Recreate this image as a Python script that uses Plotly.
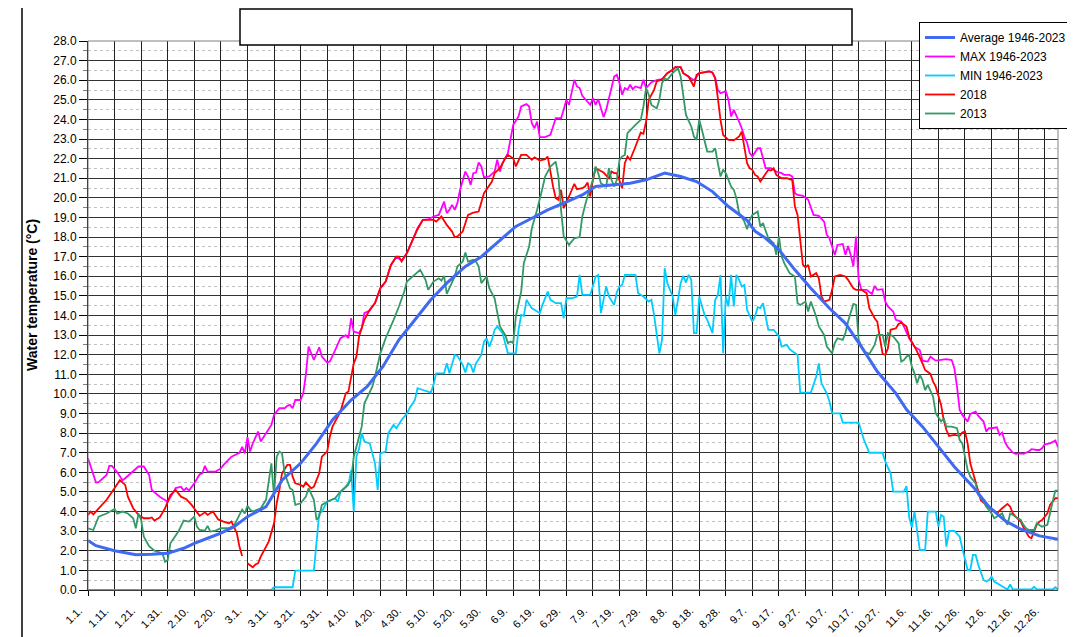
import plotly.graph_objects as go

# ---------------- data (day index: 0 = 1 Jan of a 366-day year) ----------------
tick_labels = ["1.1.", "1.11.", "1.21.", "1.31.", "2.10.", "2.20.", "3.1.", "3.11.", "3.21.", "3.31.",
               "4.10.", "4.20.", "4.30.", "5.10.", "5.20.", "5.30.", "6.9.", "6.19.", "6.29.", "7.9.",
               "7.19.", "7.29.", "8.8.", "8.18.", "8.28.", "9.7.", "9.17.", "9.27.", "10.7.", "10.17.",
               "10.27.", "11.6.", "11.16.", "11.26.", "12.6.", "12.16.", "12.26."]

avg_day = [0, 3, 10, 18, 24, 30, 36, 40, 45, 50, 55, 60, 65, 67, 73, 80, 86, 92, 99, 105, 111, 117, 124,
           129, 135, 142, 148, 154, 161, 167, 173, 179, 186, 191, 198, 204, 210, 217, 223, 229, 235, 241,
           248, 251, 255, 260, 266, 272, 279, 285, 291, 297, 304, 308, 314, 320, 326, 333, 339, 345, 351,
           358, 365]
avg_temp = [2.52, 2.26, 2.0, 1.8, 1.82, 1.87, 2.13, 2.38, 2.64, 2.9, 3.23, 3.74, 4.1, 4.25, 5.6, 6.46, 7.48,
            8.67, 9.69, 10.37, 11.4, 12.76, 13.95, 14.8, 15.65, 16.5, 17.0, 17.69, 18.54, 18.96, 19.39,
            19.73, 20.15, 20.58, 20.66, 20.75, 20.92, 21.26, 21.09, 20.83, 20.32, 19.56, 18.85, 18.3, 17.94,
            17.35, 16.33, 15.39, 14.37, 13.6, 12.41, 11.14, 10.03, 9.2, 8.33, 7.31, 6.29, 5.27, 4.25, 3.54,
            3.1, 2.76, 2.59]

max_day = [0, 1, 3, 4, 7, 8, 9, 11, 13, 14, 18, 19, 21, 23, 24, 27, 30, 33, 35, 36, 37, 38, 40, 42, 43, 44,
           45, 48, 50, 51, 54, 57, 58, 59, 60, 61, 62, 64, 65, 67, 69, 70, 72, 74, 75, 76, 77, 78, 80, 81,
           82, 83, 84, 85, 87, 88, 90, 91, 93, 95, 97, 98, 99, 100, 102, 103, 104, 106, 108, 110, 112, 114,
           116, 118, 120, 122, 124, 126, 128, 130, 132, 134, 135, 136, 137, 138, 139, 140, 142, 143, 144,
           145, 146, 147, 148, 149, 151, 153, 154, 155, 156, 158, 159, 160, 162, 163, 165, 166, 167, 168,
           169, 170, 172, 174, 176, 178, 179, 180, 181, 182, 183, 184, 185, 186, 188, 189, 190, 191, 192,
           194, 195, 196, 198, 199, 200, 201, 202, 203, 204, 205, 206, 208, 209, 210, 212, 214, 216, 218,
           220, 221, 223, 224, 226, 228, 230, 232, 234, 235, 236, 237, 238, 240, 241, 242, 243, 245, 246,
           247, 248, 249, 250, 252, 253, 254, 255, 257, 259, 261, 262, 264, 265, 266, 267, 269, 271, 273,
           275, 277, 278, 279, 281, 282, 284, 285, 286, 287, 288, 289, 290, 291, 293, 295, 296, 297, 299,
           300, 301, 303, 304, 306, 307, 309, 311, 313, 314, 316, 317, 319, 321, 323, 325, 326, 327, 328,
           329, 331, 332, 334, 335, 337, 338, 339, 340, 342, 343, 344, 345, 346, 348, 349, 351, 352, 354,
           355, 357, 358, 359, 360, 362, 364, 365]
max_temp = [6.72, 6.3, 5.48, 5.5, 5.87, 6.33, 6.33, 6.0, 5.6, 5.7, 6.2, 6.3, 6.3, 5.87, 5.1, 4.76, 4.5, 5.2,
            5.27, 5.07, 5.2, 5.07, 5.44, 5.9, 5.95, 6.33, 6.04, 6.04, 6.2, 6.38, 6.8, 7.0, 7.3, 6.97, 7.8,
            7.06, 7.48, 8.08, 7.57, 7.99, 8.42, 8.93, 9.27, 9.27, 9.39, 9.44, 9.27, 9.69, 9.69, 10.03, 11.0,
            12.41, 12.07, 11.73, 12.38, 11.9, 11.6, 11.65, 12.24, 12.84, 13.0, 12.84, 13.86, 13.18, 13.1,
            13.35, 14.12, 14.25, 14.63, 15.39, 15.73, 16.58, 17.0, 16.8, 17.18, 17.77, 18.45, 18.88, 18.9,
            19.05, 19.13, 19.81, 19.22, 19.39, 19.64, 19.39, 19.73, 20.41, 21.34, 21.09, 20.66, 21.26, 21.29,
            21.8, 21.6, 21.05, 21.09, 21.34, 21.94, 21.34, 21.77, 22.28, 22.96, 23.72, 24.15, 24.66, 24.78,
            24.66, 23.81, 23.55, 23.89, 23.1, 23.1, 23.21, 24.06, 24.06, 24.49, 25.0, 24.74, 25.42, 26.02,
            25.68, 25.6, 25.2, 24.91, 24.74, 25.09, 24.74, 25.03, 24.12, 24.49, 25.09, 26.19, 26.28, 25.85,
            25.26, 25.6, 25.51, 25.77, 25.54, 25.68, 25.6, 26.02, 25.6, 25.9, 26.0, 26.05, 26.36, 26.53,
            26.67, 26.67, 26.36, 26.2, 26.0, 26.36, 26.39, 26.45, 26.39, 26.11, 25.5, 25.34, 25.43, 25.0,
            24.15, 24.49, 23.89, 23.55, 23.1, 22.82, 22.28, 22.11, 22.53, 22.53, 22.02, 21.51, 21.51, 21.34,
            21.26, 21.17, 21.17, 21.09, 20.24, 20.15, 20.1, 19.9, 19.13, 19.08, 18.79, 18.11, 17.94, 17.09,
            17.6, 17.65, 17.09, 17.55, 17.09, 16.5, 18.03, 15.82, 15.31, 15.31, 15.1, 15.51, 15.31, 15.34,
            14.71, 14.46, 14.2, 13.78, 13.69, 13.44, 12.84, 12.41, 12.24, 11.7, 11.65, 11.9, 11.7, 11.73,
            11.77, 11.73, 11.31, 10.37, 9.18, 8.93, 8.59, 8.98, 9.1, 8.88, 8.59, 8.08, 8.25, 8.25, 8.3, 7.91,
            8.03, 7.57, 7.31, 7.01, 6.94, 6.97, 6.94, 7.06, 7.18, 7.14, 7.14, 7.23, 7.43, 7.48, 7.62, 7.28]

min_day = [0, 69, 70, 77, 78, 85, 87, 88, 90, 93, 94, 95, 98, 99, 100, 101, 102, 103, 104, 106, 108, 109,
           110, 112, 113, 115, 116, 118, 120, 121, 123, 124, 126, 129, 130, 131, 134, 135, 136, 137, 138,
           139, 141, 142, 143, 144, 145, 146, 148, 149, 150, 151, 152, 153, 154, 156, 157, 158, 161, 162,
           163, 164, 165, 167, 168, 170, 171, 173, 174, 176, 178, 179, 180, 182, 184, 185, 186, 189, 191,
           192, 193, 194, 195, 196, 198, 199, 200, 201, 202, 206, 207, 209, 210, 211, 212, 213, 215, 216,
           217, 218, 220, 221, 222, 223, 224, 225, 226, 227, 228, 229, 230, 231, 232, 233, 235, 236, 237,
           238, 239, 240, 241, 242, 243, 244, 245, 246, 247, 248, 249, 250, 251, 252, 253, 254, 256, 258,
           260, 261, 263, 264, 267, 268, 272, 274, 275, 276, 278, 279, 280, 283, 284, 290, 292, 294, 299,
           300, 302, 303, 307, 308, 309, 310, 311, 312, 313, 315, 316, 319, 320, 321, 322, 323, 324, 326,
           328, 329, 330, 331, 332, 333, 334, 335, 337, 338, 339, 340, 341, 343, 344, 346, 347, 348, 355,
           356, 357, 363, 364, 365]
min_temp = [0.0, 0.0, 0.14, 0.14, 0.99, 0.99, 3.9, 4.0, 4.5, 4.68, 4.5, 5.0, 5.36, 6.1, 4.0, 6.8, 7.2, 8.0,
            7.57, 7.48, 6.46, 5.1, 6.97, 7.06, 8.0, 8.42, 8.25, 8.67, 9.0, 9.27, 9.69, 10.29, 10.2, 10.07,
            10.46, 11.05, 11.05, 11.56, 11.05, 11.48, 11.99, 11.94, 11.48, 11.09, 11.56, 11.48, 11.09, 11.56,
            11.99, 12.67, 12.84, 12.41, 12.76, 13.27, 13.44, 13.1, 12.59, 12.07, 12.07, 13.27, 14.03, 13.98,
            14.8, 14.37, 14.29, 14.12, 14.54, 15.22, 14.8, 14.63, 14.63, 13.86, 14.88, 14.88, 14.97, 16.07,
            15.05, 15.05, 15.99, 16.07, 14.12, 14.8, 15.48, 14.97, 14.54, 15.2, 15.48, 15.56, 16.07, 16.07,
            15.14, 14.97, 14.83, 14.71, 14.8, 14.03, 12.07, 12.76, 16.41, 15.65, 14.97, 14.03, 14.8, 15.65,
            16.02, 15.68, 16.07, 15.82, 13.1, 13.1, 14.97, 14.46, 14.03, 13.78, 13.1, 14.8, 15.05, 16.07,
            12.07, 14.97, 14.46, 16.07, 14.46, 16.07, 15.82, 15.48, 15.56, 14.29, 13.95, 13.69, 13.95, 14.42,
            14.37, 14.63, 13.27, 13.27, 12.93, 12.41, 12.5, 12.28, 11.99, 10.07, 10.07, 10.88, 11.56, 10.54,
            10.03, 9.61, 9.01, 9.01, 8.54, 8.54, 7.65, 7.0, 7.0, 6.55, 5.95, 5.02, 5.02, 5.3, 3.7, 3.2, 4.0,
            2.9, 2.04, 2.04, 4.0, 4.0, 3.23, 3.83, 3.74, 2.21, 3.01, 3.01, 2.72, 2.13, 1.53, 1.02, 1.02, 1.79,
            1.79, 1.28, 0.51, 0.43, 0.51, 0.68, 0.43, 0.26, 0.17, 0.03, 0.29, 0.03, 0.03, 0.17, 0.03, 0.03,
            0.14, 0.03]

y2018_day = [0, 1, 2, 4, 6, 7, 9, 11, 12, 14, 15, 17, 19, 21, 23, 24, 25, 27, 29, 31, 33, 35, 37, 39, 41, 42,
             44, 45, 47, 49, 51, 53, 54, 56, 57, 58, 59, 60, 62, 63, 64, 65, 67, 68, 70, 71, 72, 73, 75, 76,
             77, 78, 80, 81, 82, 84, 85, 87, 88, 90, 91, 92, 94, 95, 97, 98, 100, 101, 102, 104, 106, 108,
             110, 112, 114, 116, 117, 118, 120, 122, 124, 126, 130, 131, 133, 135, 137, 138, 139, 141, 143,
             145, 147, 149, 152, 153, 155, 157, 158, 160, 161, 163, 165, 167, 168, 170, 172, 173, 174, 175,
             176, 177, 178, 179, 181, 183, 184, 186, 187, 188, 189, 190, 191, 193, 194, 196, 197, 198, 199,
             201, 202, 203, 204, 206, 208, 209, 210, 211, 213, 214, 216, 218, 220, 221, 223, 224, 225, 226,
             228, 229, 230, 232, 234, 235, 236, 237, 238, 239, 241, 243, 245, 246, 247, 248, 249, 250, 251,
             252, 253, 255, 256, 257, 258, 259, 261, 263, 265, 266, 267, 268, 269, 270, 271, 272, 274, 275,
             276, 277, 279, 280, 281, 283, 285, 286, 288, 289, 291, 293, 294, 296, 297, 298, 299, 300, 301,
             302, 304, 305, 306, 308, 309, 311, 312, 314, 315, 317, 318, 319, 321, 322, 323, 324, 326, 328,
             329, 330, 331, 332, 334, 335, 336, 338, 340, 341, 342, 344, 346, 347, 348, 349, 351, 352, 354,
             355, 356, 357, 358, 359, 361, 362, 364, 365]
y2018_temp = [3.83, 4.0, 3.86, 4.17, 4.46, 4.6, 5.0, 5.44, 5.6, 5.36, 4.76, 4.17, 3.83, 3.66, 3.66, 3.7, 3.54,
              3.7, 4.17, 4.85, 5.1, 4.76, 4.63, 4.34, 4.0, 3.78, 3.96, 3.83, 4.0, 3.6, 3.49, 3.4, 3.49, 2.9,
              2.2, 1.73, None, 1.36, 1.16, 1.3, 1.36, 1.7, 2.2, 2.47, 3.4, 4.42, 5.1, 5.95, 6.38, 6.38, 5.78,
              5.44, 5.36, 5.27, 5.48, 5.19, 5.27, 5.95, 6.8, 7.06, 7.82, 8.33, 8.84, 9.1, 10.03, 10.12, 11.56,
              11.9, 12.93, 13.78, 14.29, 14.63, 15.39, 15.73, 16.58, 17.0, 17.0, 16.75, 17.18, 17.77, 18.4,
              18.88, 18.88, 18.79, 19.05, 18.62, 18.28, 17.99, 18.03, 18.28, 19.13, 19.25, 19.3, 20.24, 20.83,
              21.26, 21.51, 22.02, 22.19, 22.02, 21.6, 22.19, 22.19, 21.94, 22.07, 21.9, 21.97, 22.1, 21.26,
              20.58, 19.98, 19.9, 20.41, 19.47, 20.07, 20.71, 20.44, 20.49, 20.58, 20.78, 20.07, 20.92, 21.51,
              21.34, 21.29, 21.0, 21.34, 21.26, 21.26, 20.49, 21.77, 22.11, 21.94, 22.62, 23.33, 23.27, 23.89,
              25.0, 25.51, 25.94, 26.05, 26.36, 26.53, 26.67, 26.67, 26.36, 26.28, 26.19, 25.68, 26.28, 26.36,
              26.39, 26.45, 26.39, 26.11, 25.09, 23.98, 23.21, 22.96, 22.93, 23.13, 23.38, 22.45, 21.77, 21.51,
              21.43, 21.17, 21.09, 20.83, 21.26, 21.43, 21.39, 21.51, 21.17, 21.0, 21.0, 20.9, 19.56, 19.13,
              17.86, 16.6, 16.45, 16.58, 15.99, 16.16, 15.9, 14.97, 14.71, 14.8, 15.31, 15.99, 16.07, 15.99,
              15.82, 15.39, 15.31, 15.31, 15.14, 14.37, 13.86, 13.69, 12.84, 12.04, 11.99, 12.33, 13.27, 13.35,
              13.57, 13.64, 13.44, 12.89, 12.41, 12.16, 11.56, 11.22, 11.02, 10.63, 10.37, 9.44, 8.67, 8.16,
              7.86, 7.91, 7.86, 8.03, 8.08, 7.48, 6.46, 5.44, 4.93, 4.56, 4.34, 4.08, 4.05, 3.91, 4.17, 4.39,
              4.25, 3.91, 3.74, 3.49, 3.2, 2.72, 2.64, 2.98, 3.32, 3.49, 3.57, 3.91, 4.34, 4.68, 4.68]

y2013_day = [0, 2, 4, 6, 7, 10, 11, 13, 15, 17, 18, 19, 20, 21, 23, 25, 28, 29, 30, 31, 34, 36, 38, 40, 41,
             42, 44, 45, 46, 48, 50, 53, 55, 58, 59, 60, 61, 62, 65, 67, 68, 69, 70, 71, 72, 73, 74, 75, 76,
             77, 78, 80, 82, 83, 85, 86, 87, 88, 90, 93, 95, 97, 99, 100, 101, 103, 104, 105, 107, 108, 109,
             110, 112, 114, 115, 117, 119, 120, 122, 125, 127, 128, 130, 132, 133, 134, 135, 136, 138, 139,
             141, 142, 143, 145, 146, 147, 148, 150, 151, 153, 154, 155, 157, 158, 159, 160, 161, 163, 164,
             166, 167, 169, 171, 172, 173, 174, 176, 177, 178, 179, 181, 183, 185, 186, 187, 188, 190, 191,
             192, 193, 195, 196, 197, 198, 199, 200, 201, 202, 203, 205, 206, 208, 209, 210, 211, 212, 214,
             215, 216, 217, 218, 220, 221, 222, 223, 224, 225, 227, 228, 229, 230, 231, 232, 233, 235, 236,
             237, 238, 239, 240, 242, 243, 244, 245, 247, 248, 249, 250, 252, 253, 254, 255, 256, 258, 259,
             260, 261, 262, 264, 266, 267, 268, 270, 271, 272, 274, 275, 277, 278, 280, 281, 282, 284, 285,
             286, 288, 289, 290, 291, 292, 294, 296, 297, 299, 300, 301, 303, 305, 306, 307, 308, 309, 310,
             311, 312, 313, 314, 315, 316, 318, 319, 321, 322, 323, 325, 327, 328, 329, 330, 331, 332, 334,
             335, 337, 338, 340, 341, 342, 344, 345, 346, 347, 349, 351, 352, 353, 354, 356, 357, 358, 359,
             361, 362, 363, 364, 365]
y2013_temp = [3.15, 3.06, 3.74, 3.83, 3.9, 4.13, 3.9, 4.0, 3.9, 3.66, 3.15, 3.9, 3.57, 2.72, 2.24, 2.0, 1.87,
              1.44, 1.53, 2.38, 2.98, 3.54, 3.49, 3.74, 3.23, 3.06, 3.03, 3.27, 2.98, 3.03, 3.15, 3.15, 3.3,
              4.1, 3.9, 4.29, 4.1, 4.0, 4.17, 4.6, 5.44, 6.46, 4.8, 6.8, 7.06, 6.97, 5.95, 5.61, 5.19, 5.1,
              4.34, 4.42, 4.76, 5.19, 4.6, 3.57, 3.74, 4.34, 4.5, 4.68, 5.02, 5.27, 5.61, 6.8, 7.31, 8.33, 9.52,
              9.78, 10.37, 10.88, 11.4, 12.07, 12.84, 13.44, 13.78, 14.46, 15.22, 15.73, 15.99, 16.33, 15.82,
              15.31, 15.73, 15.9, 15.78, 16.02, 15.1, 15.39, 15.99, 16.5, 16.75, 17.21, 16.75, 16.84, 16.75,
              16.5, 15.65, 15.99, 15.39, 14.88, 14.12, 13.44, 13.01, 12.59, 12.67, 12.59, 13.95, 15.22, 16.67,
              17.52, 18.45, 19.39, 20.49, 21.09, 21.34, 21.6, 21.85, 21.09, 19.39, 18.03, 17.6, 17.94, 18.0,
              19.05, 19.6, 20.1, 20.92, 21.6, 21.26, 20.75, 20.58, 21.51, 20.92, 20.58, 20.92, 21.94, 22.11,
              22.19, 23.3, 23.55, 23.72, 23.98, 24.66, 25.6, 25.26, 24.74, 24.57, 25.0, 25.85, 26.1, 26.02,
              26.36, 26.5, 26.62, 26.19, 25.17, 24.23, 23.64, 23.13, 22.96, 23.98, 23.47, 22.87, 22.36, 22.36,
              22.53, 21.77, 21.09, 21.43, 21.26, 20.58, 20.41, 19.98, 19.22, 18.79, 18.4, 18.88, 19.13, 19.3,
              18.54, 18.71, 18.37, 17.94, 17.69, 17.09, 18.03, 17.01, 16.67, 16.16, 15.99, 14.63, 14.54, 14.71,
              14.2, 14.71, 13.95, 13.44, 13.01, 12.41, 12.07, 12.59, 12.84, 12.76, 13.1, 13.69, 14.59, 14.54,
              12.76, 12.41, 12.16, 12.04, 12.5, 13.01, 13.01, 12.41, 13.1, 12.93, 12.59, 11.65, 11.73, 11.9,
              11.99, 11.39, 11.05, 10.54, 10.97, 10.71, 10.2, 10.46, 9.86, 9.01, 8.59, 8.76, 8.33, 8.33, 8.25,
              7.65, 7.48, 6.8, 6.12, 5.78, 5.44, 4.85, 4.51, 4.25, 3.91, 3.66, 3.74, 3.91, 3.57, 3.32, 3.91,
              3.74, 3.57, 3.32, 3.15, 3.06, 3.06, 3.4, 3.32, 3.23, 3.32, 4.0, 4.51, 5.07, 5.07]

# ---------------- figure ----------------
FONT = "Liberation Sans, Arial, sans-serif"
OFF = 8                      # default page margin of the html body
W, H = 1075 - OFF, 637 - OFF
PL, PR, PT, PB = 88, 1058, 41, 590      # plot area in page pixels
L, T = PL - OFF, PT - OFF
R, B = W - (PR - OFF), H - (PB - OFF)
pw, ph = PR - PL, PB - PT


def px_x(x):
    return (x - PL) / pw


def px_y(y):
    return (PB - y) / ph


fig = go.Figure()
fig.add_trace(go.Scatter(x=max_day, y=max_temp, mode="lines", name="MAX 1946-2023", legendrank=2,
                         line=dict(color="#FF00FF", width=1.8)))
fig.add_trace(go.Scatter(x=min_day, y=min_temp, mode="lines", name="MIN 1946-2023", legendrank=3,
                         line=dict(color="#00CCFF", width=1.8)))
fig.add_trace(go.Scatter(x=y2018_day, y=y2018_temp, mode="lines", name="2018", legendrank=4,
                         connectgaps=False, line=dict(color="#FF0000", width=1.8)))
fig.add_trace(go.Scatter(x=y2013_day, y=y2013_temp, mode="lines", name="2013", legendrank=5,
                         line=dict(color="#339966", width=1.8)))
fig.add_trace(go.Scatter(x=avg_day, y=avg_temp, mode="lines", name="Average 1946-2023", legendrank=1,
                         line=dict(color="#3F6AF2", width=3)))

fig.update_layout(
    width=W, height=H,
    margin=dict(l=L, r=R, t=T, b=B, pad=0, autoexpand=False),
    paper_bgcolor="white", plot_bgcolor="white",
    font=dict(family=FONT, color="black", size=12),
    showlegend=True,
    legend=dict(x=px_x(1072), xanchor="right", y=px_y(22), yanchor="top",
                bgcolor="white", bordercolor="black", borderwidth=1,
                font=dict(family=FONT, size=12, color="black"),
                itemwidth=30, tracegroupgap=0),
    xaxis=dict(range=[0, 365], tickmode="array",
               tickvals=[10 * i for i in range(len(tick_labels))], ticktext=tick_labels,
               tickangle=-45, tickfont=dict(size=11, family=FONT),
               ticklabelshift=-9, ticklabelstandoff=4,
               showgrid=True, gridcolor="#222222", gridwidth=1,
               ticks="outside", ticklen=5, tickcolor="black",
               showline=True, linecolor="black", linewidth=1, mirror=False,
               zeroline=False, automargin=False),
    yaxis=dict(range=[0, 28], dtick=1, tick0=0, tickformat=".1f",
               tickfont=dict(size=12, family=FONT),
               showgrid=True, gridcolor="#333333", gridwidth=1,
               ticks="outside", ticklen=8, tickcolor="black",
               minor=dict(dtick=0.5, showgrid=True, gridcolor="#C0C0C0", griddash="dot",
                          ticks="outside", ticklen=4, tickcolor="#808080"),
               showline=True, linecolor="black", linewidth=1,
               zeroline=False, automargin=False),
    shapes=[
        dict(type="rect", xref="paper", yref="paper", x0=0, x1=1, y0=0, y1=1,
             line=dict(color="#808080", width=1), fillcolor="rgba(0,0,0,0)", layer="above"),
        dict(type="rect", xref="paper", yref="paper",
             x0=px_x(240), x1=px_x(852), y0=px_y(45), y1=px_y(9),
             line=dict(color="black", width=1.5), fillcolor="white", layer="above"),
        dict(type="line", xref="paper", yref="paper",
             x0=px_x(22), x1=px_x(22), y0=px_y(640), y1=px_y(OFF),
             line=dict(color="black", width=1.5)),
    ],
    annotations=[
        dict(text="<b>Water temperature (°C)</b>", xref="paper", yref="paper",
             x=px_x(32), y=px_y(295), textangle=-90, showarrow=False,
             font=dict(size=14, family=FONT, color="black"), xanchor="center", yanchor="middle"),
    ],
)

fig.write_html("out.html")
